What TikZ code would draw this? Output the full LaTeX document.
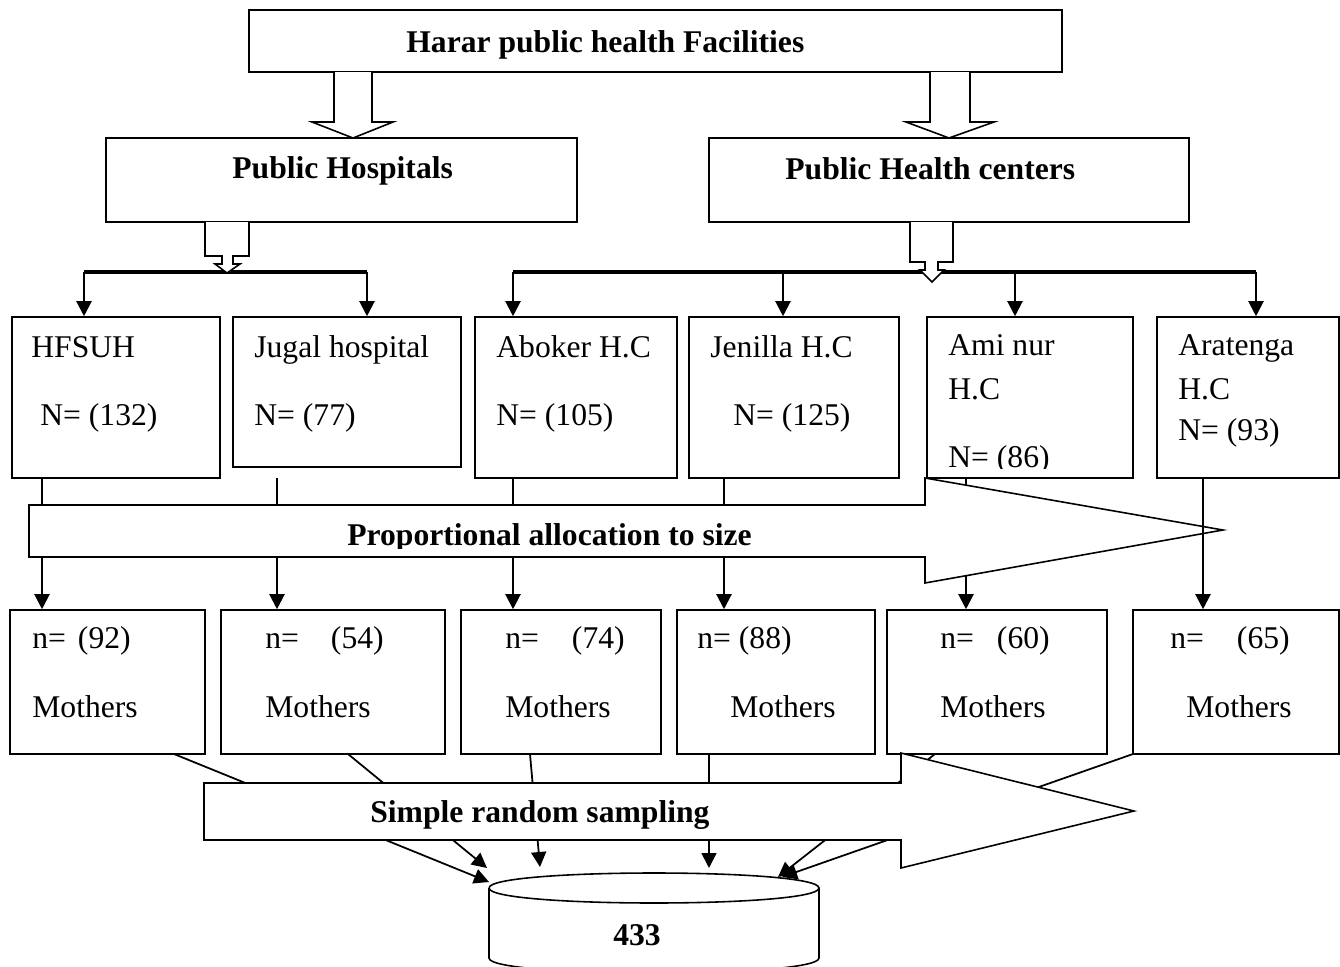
\documentclass[tikz,border=0pt]{standalone}
\usepackage{fontspec}
\setmainfont{Liberation Serif}
\usetikzlibrary{arrows.meta,fit}

\begin{document}
\begin{tikzpicture}[x=0.02cm, y=-0.02cm,
  box/.style={draw, line width=0.9pt, inner sep=0pt, fill=white},
  txt/.style={anchor=base west, inner sep=0pt, font=\fontsize{18}{21}\selectfont},
  btxt/.style={anchor=base west, inner sep=0pt, font=\fontsize{18}{21}\selectfont\bfseries},
  hollow/.style={draw, line width=0.9pt, fill=white},
  arr/.style={-{Triangle[length=0.3cm, width=0.3cm]}, line width=1.2pt},
  bar/.style={line width=1.8pt}]
\useasboundingbox (0,0) rectangle (1340,967);

\node [box, fit={(249,10) (1062,72)}] (top) {};
\node [btxt] (toptext) at (406,52) {Harar public health Facilities};
\node [box, fit={(106,138) (577,222)}] (hosp) {};
\node [btxt] (hosptext) at (232,178) {Public Hospitals};
\node [box, fit={(709,138) (1189,222)}] (hc) {};
\node [btxt] (hctext) at (785,179) {Public Health centers};
\draw [hollow] (334,72) -- (334,122) -- (312,122) -- (353,138) -- (393,122) -- (372,122) -- (372,72);
\draw [hollow] (930,72) -- (930,122) -- (906,122) -- (949,138) -- (994,122) -- (970,122) -- (970,72);

\node [box, fit={(12,317) (220,478)}] (hfsuh) {};
\node [box, fit={(233,317) (461,467)}] (jugal) {};
\node [box, fit={(475,317) (677,478)}] (aboker) {};
\node [box, fit={(689,317) (899,478)}] (jenilla) {};
\node [box, fit={(927,317) (1133,478)}] (aminur) {};
\node [box, fit={(1157,317) (1339,478)}] (aratenga) {};

\node [txt] (hfsuhA) at (31,357) {HFSUH};
\node [txt] (hfsuhB) at (40,425) {N= (132)};
\node [txt] (jugalA) at (254,357) {Jugal hospital};
\node [txt] (jugalB) at (254,425) {N= (77)};
\node [txt] (abokerA) at (496,357) {Aboker H.C};
\node [txt] (abokerB) at (496,425) {N= (105)};
\node [txt] (jenillaA) at (710,357) {Jenilla H.C};
\node [txt] (jenillaB) at (733,425) {N= (125)};
\node [txt] (aminurA) at (948,355) {Ami nur};
\node [txt] (aminurB) at (948,399) {H.C};
\begin{scope}
\clip (927,317) rectangle (1133,468);
\node [txt] (aminurC) at (948,467) {N= (86)};
\end{scope}
\node [txt] (aratengaA) at (1178,355) {Aratenga};
\node [txt] (aratengaB) at (1178,399) {H.C};
\node [txt] (aratengaC) at (1178,440) {N= (93)};

\coordinate (l1) at (84,272);
\coordinate (l2) at (367,272);
\draw [bar] (l1) -- (l2);
\draw [arr] (l1) -- (l1 |- hfsuh.north);
\draw [arr] (l2) -- (l2 |- jugal.north);
\coordinate (r1) at (513,272);
\coordinate (r2) at (783,272);
\coordinate (r3) at (1015,272);
\coordinate (r4) at (1256,272);
\draw [bar] (r1) -- (r4);
\foreach \c/\b in {r1/aboker, r2/jenilla, r3/aminur, r4/aratenga}
  \draw [arr] (\c) -- (\c |- \b.north);
\draw [hollow] (205,222) -- (205,256) -- (222,256) -- (222,264) -- (215,264) -- (227,273) -- (240,264) -- (233,264) -- (233,256) -- (249,256) -- (249,222);
\draw [hollow] (910,222) -- (910,262) -- (925,262) -- (925,270) -- (920,270) -- (932,282) -- (944,270) -- (938,270) -- (938,262) -- (953,262) -- (953,222);

\node [box, fit={(10,610) (205,754)}] (m1) {};
\node [box, fit={(221,610) (445,754)}] (m2) {};
\node [box, fit={(461,610) (661,754)}] (m3) {};
\node [box, fit={(677,610) (875,754)}] (m4) {};
\node [box, fit={(887,610) (1107,754)}] (m5) {};
\node [box, fit={(1133,610) (1339,754)}] (m6) {};

\coordinate (d1) at (42,478);
\coordinate (d2) at (277,478);
\coordinate (d3) at (513,478);
\coordinate (d4) at (724,478);
\coordinate (d5) at (966,478);
\coordinate (d6) at (1203,478);
\foreach \c/\b in {d1/m1, d2/m2, d3/m3, d4/m4, d5/m5}
  \draw [arr] (\c) -- (\c |- \b.north);
\draw [hollow] (29,505) -- (925,505) -- (925,478) -- (1223,530) -- (925,583) -- (925,557) -- (29,557) -- cycle;
\begin{scope}
\clip (29,505) rectangle (925,548);
\node [btxt] (prop) at (347,545) {Proportional allocation to size};
\end{scope}
\draw [arr] (d6) -- (d6 |- m6.north);

\node [txt] (m1a) at (32,648) {n=\hspace{0.24cm}(92)};
\node [txt] (m1b) at (32,717) {Mothers};
\node [txt] (m2a) at (265,648) {n=\hspace{0.64cm}(54)};
\node [txt] (m2b) at (265,717) {Mothers};
\node [txt] (m3a) at (505,648) {n=\hspace{0.66cm}(74)};
\node [txt] (m3b) at (505,717) {Mothers};
\node [txt] (m4a) at (697,648) {n= (88)};
\node [txt] (m4b) at (730,717) {Mothers};
\node [txt] (m5a) at (940,648) {n=\hspace{0.46cm}(60)};
\node [txt] (m5b) at (940,717) {Mothers};
\node [txt] (m6a) at (1170,648) {n=\hspace{0.66cm}(65)};
\node [txt] (m6b) at (1186,717) {Mothers};

\draw [line width=0.9pt, fill=white] (489,888) -- (489,958) .. controls (489,978) and (819,978) .. (819,958) -- (819,888);
\draw [line width=0.9pt] (489,888) .. controls (489,868) and (819,868) .. (819,888) .. controls (819,908) and (489,908) .. (489,888);
\node [btxt] (db) at (613,945) {433};

\coordinate (u1) at (174,754);
\coordinate (u2) at (348,754);
\coordinate (u3) at (530,754);
\coordinate (u4) at (709,754);
\coordinate (u5) at (935,754);
\coordinate (u6) at (1133,754);
\coordinate (e1) at (489,882);
\coordinate (e2) at (487,868);
\coordinate (e3) at (540,867);
\coordinate (e4) at (709,868);
\coordinate (e5) at (778,877);
\coordinate (e6) at (782,877);
\foreach \i in {1,...,6}
  \draw [arr, line width=1pt] (u\i) -- (e\i);
\draw [hollow] (204,783) -- (901,783) -- (901,753) -- (1134,811) -- (901,868) -- (901,840) -- (204,840) -- cycle;
\node [btxt] (srs) at (370,822) {Simple random sampling};
\end{tikzpicture}
\end{document}
